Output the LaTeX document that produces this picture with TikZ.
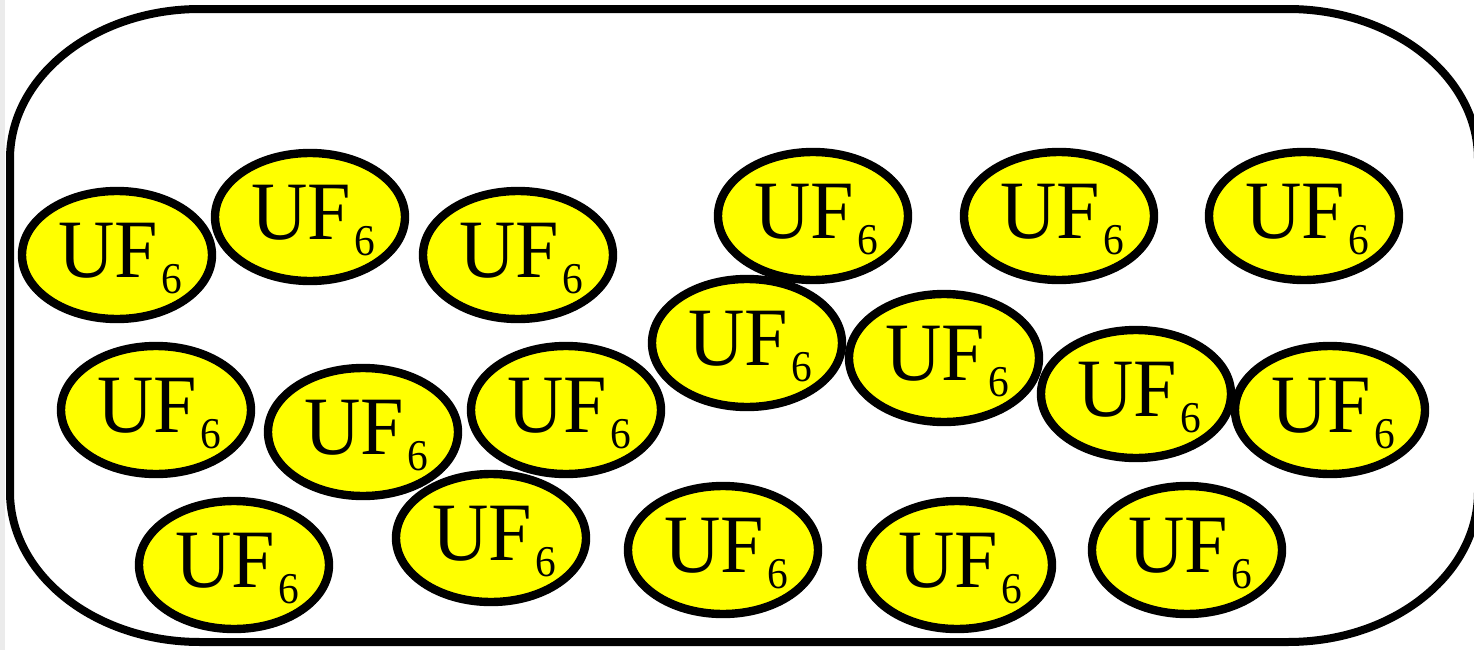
\documentclass[tikz,border=0pt]{standalone}
\usepackage{fontspec}
\setmainfont{Liberation Serif}
\usetikzlibrary{shapes.geometric}
\definecolor{ufyellow}{RGB}{255,255,0}
\definecolor{stripgrey}{RGB}{235,235,235}
\newcommand{\ufsix}{\makebox[0pt]{\kern3pt\raisebox{-11pt}[0pt][0pt]{\scalebox{0.94}[1]{\fontsize{41.5}{41.5}\selectfont UF\kern1.6pt\raisebox{-8pt}{\fontsize{22}{22}\selectfont 6}}}}}
\tikzset{
  mol/.style={ellipse, draw=black, line width=4.2pt, fill=ufyellow,
    minimum width=95pt, minimum height=64pt, inner sep=0pt, outer sep=0pt},
  boxline/.style={draw=black, line width=4pt}
}
\begin{document}
\begin{tikzpicture}[x=0.5pt,y=0.5pt]
\useasboundingbox (0,0) rectangle (1474,650);
\fill[white] (0,0) rectangle (1474,650);
\fill[stripgrey] (0,0) rectangle (5,650);
\begin{scope}
\clip (0,0) rectangle (1474,650);
\draw[boxline] (200,641) -- (1288,641)
  arc[start angle=90, end angle=0, x radius=190, y radius=150]
  -- (1478,158)
  arc[start angle=0, end angle=-90, x radius=190, y radius=150]
  -- (200,8)
  arc[start angle=270, end angle=180, x radius=190, y radius=150]
  -- (10,491)
  arc[start angle=180, end angle=90, x radius=190, y radius=150]
  -- cycle;
\end{scope}
\node[mol] (m1) at (117,395) {\ufsix};
\node[mol] (m2) at (310,433) {\ufsix};
\node[mol] (m3) at (518,395) {\ufsix};
\node[mol] (m4) at (813,434) {\ufsix};
\node[mol] (m5) at (1059,434) {\ufsix};
\node[mol] (m6) at (1304,434) {\ufsix};
\node[mol] (m7) at (747,307) {\ufsix};
\node[mol] (m8) at (944,292) {\ufsix};
\node[mol] (m9) at (1136,256) {\ufsix};
\node[mol] (m10) at (1330,240) {\ufsix};
\node[mol] (m11) at (156,240) {\ufsix};
\node[mol] (m12) at (363,218) {\ufsix};
\node[mol] (m13) at (566,240) {\ufsix};
\node[mol] (m14) at (234,85) {\ufsix};
\node[mol] (m15) at (491,112) {\ufsix};
\node[mol] (m16) at (723,100) {\ufsix};
\node[mol] (m17) at (957,85) {\ufsix};
\node[mol] (m18) at (1187,100) {\ufsix};
\end{tikzpicture}
\end{document}
